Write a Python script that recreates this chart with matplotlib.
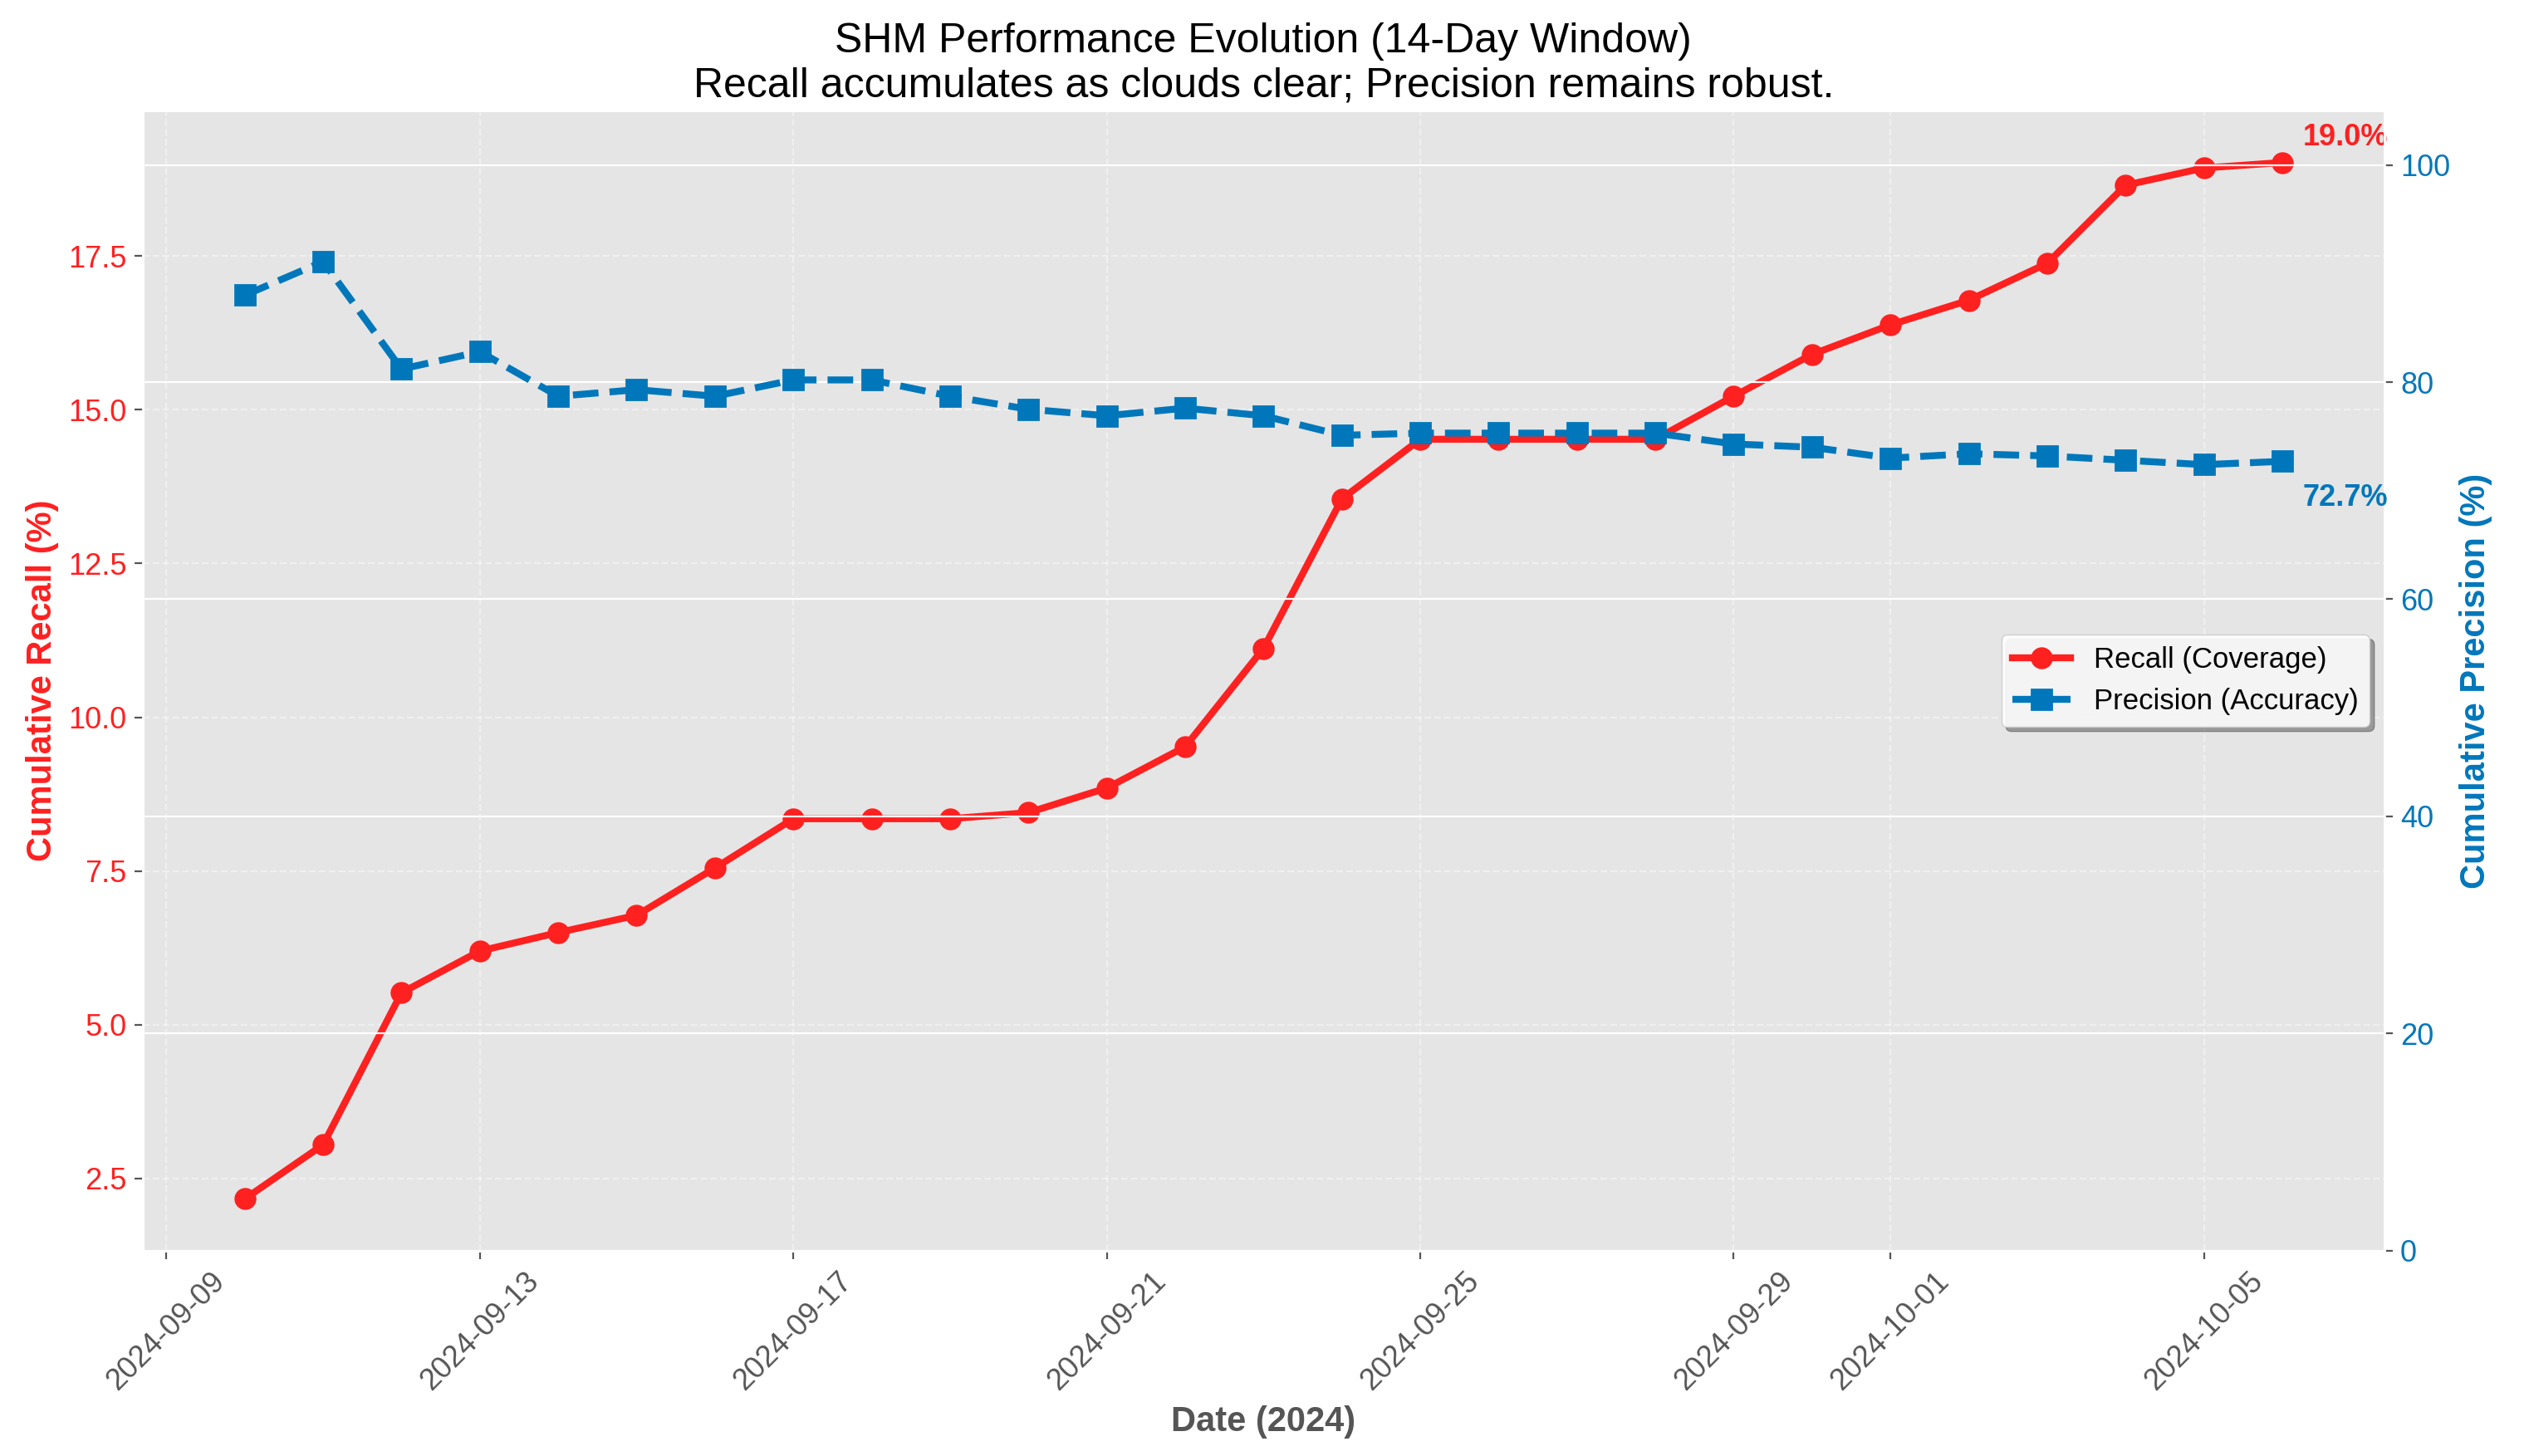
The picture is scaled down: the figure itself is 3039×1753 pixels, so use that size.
import pandas as pd
import matplotlib
matplotlib.use('Agg')
import matplotlib.pyplot as plt

plt.style.use('ggplot')
plt.rcParams['font.family'] = ['Liberation Sans', 'DejaVu Sans']

# daily cumulative metrics (14-day window run)
dates = pd.date_range('2024-09-10', '2024-10-06', freq='D')
recall = [2.17, 3.05, 5.52, 6.2, 6.5, 6.78, 7.55, 8.35, 8.35, 8.35, 8.45, 8.85, 9.52,
          11.12, 13.55, 14.52, 14.52, 14.52, 14.52, 15.22, 15.9, 16.38, 16.78, 17.38,
          18.65, 18.93, 19.02]
precision = [88.0, 91.1, 81.2, 82.8, 78.7, 79.3, 78.7, 80.2, 80.2, 78.7, 77.5, 76.9, 77.6,
             76.9, 75.1, 75.3, 75.3, 75.3, 75.3, 74.3, 74.0, 73.0, 73.4, 73.2, 72.8,
             72.4, 72.7]

red = '#FF2020'
blue = '#0077BB'

fig = plt.figure(figsize=(15.195, 8.765), dpi=200)
ax1 = fig.add_axes([0.0566, 0.141, 0.888, 0.783])

l1, = ax1.plot(dates, recall, color=red, lw=3, marker='o', ms=8.5, label='Recall (Coverage)')
ax1.set_ylabel('Cumulative Recall (%)', color=red, fontsize=15, fontweight='bold')
ax1.set_xlabel('Date (2024)', color='#555555', fontsize=15, fontweight='bold')
ax1.tick_params(axis='y', labelcolor=red, labelsize=13)
ax1.tick_params(axis='x', labelsize=13)
ax1.grid(True, linestyle='--', alpha=0.4)
plt.setp(ax1.get_xticklabels(), rotation=45)

ax2 = ax1.twinx()
l2, = ax2.plot(dates, precision, color=blue, lw=3, ls='--', marker='s', ms=8.5,
               label='Precision (Accuracy)')
ax2.set_ylim(0, 105)
ax2.set_ylabel('Cumulative Precision (%)', color=blue, fontsize=15, fontweight='bold')
ax2.tick_params(axis='y', labelcolor=blue, labelsize=13)

# end-point labels
ax1.annotate('%.1f%%' % recall[-1], (dates[-1], recall[-1]), xytext=(9, 11),
             textcoords='offset points', color=red, fontsize=13, fontweight='bold',
             ha='left', va='center')
ax2.annotate('%.1f%%' % precision[-1], (dates[-1], precision[-1]), xytext=(9, -16),
             textcoords='offset points', color=blue, fontsize=13, fontweight='bold',
             ha='left', va='center')

leg = ax2.legend([l1, l2], [l1.get_label(), l2.get_label()], loc='center right',
                 fontsize=12.5, shadow=True, fancybox=True, facecolor='white', framealpha=0.9)

ax1.set_title('SHM Performance Evolution (14-Day Window)\n'
              'Recall accumulates as clouds clear; Precision remains robust.',
              fontsize=18, color='black')

fig.savefig('out.png', dpi=200)
